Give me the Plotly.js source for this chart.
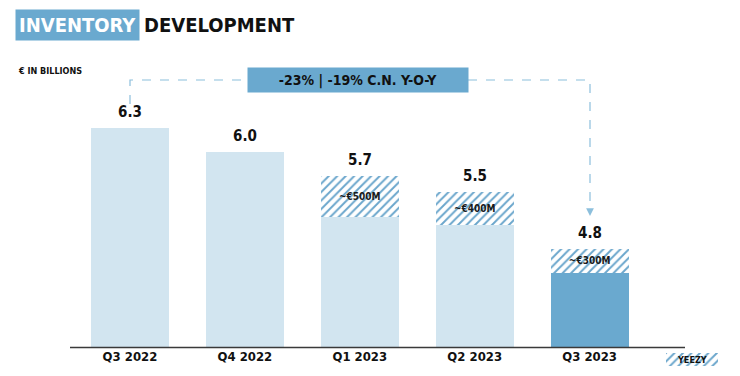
<!DOCTYPE html>
<html><head><meta charset="utf-8">
<script src="https://cdn.plot.ly/plotly-3.0.1.min.js"></script>
<style>html,body{margin:0;padding:0;background:#fff}#chart{width:740px;height:376px}</style>
</head><body><div id="chart"></div>
<script>
const quarters = ['Q3 2022', 'Q4 2022', 'Q1 2023', 'Q2 2023', 'Q3 2023'];
const totals = [6.3, 6.0, 5.7, 5.5, 4.8];
const yeezy = [0, 0, 0.5, 0.4, 0.3];
const yeezyLabels = ['', '', '~€500M', '~€400M', '~€300M'];
const totalLabels = ['6.3', '6.0', '5.7', '5.5', '4.8'];
const legendLabel = ['YEEZY'];

const W = 740, H = 376;
const px = x => x / W, py = y => 1 - y / H;
const F = '"DejaVu Sans Condensed", "Liberation Sans Narrow", sans-serif';
const light = '#d2e5f0', dark = '#6aa9cf', hatch = '#6aa6cc', arrowC = '#8cbfdc';

const base = totals.map((t, i) => +(t - yeezy[i]).toFixed(2));
const baseColors = quarters.map((q, i) => i === quarters.length - 1 ? dark : light);
const pat = {shape: '/', fgcolor: hatch, bgcolor: '#ffffff', size: 6, solidity: 0.32};

const traces = [
  {type: 'bar', x: quarters, y: base, marker: {color: baseColors}, width: 0.68,
   hoverinfo: 'skip', showlegend: false},
  {type: 'bar', x: quarters, y: yeezy, text: yeezyLabels, textposition: 'inside',
   insidetextanchor: 'middle', textangle: 0,
   textfont: {family: F, size: 10, color: '#1a1a1a', weight: 'bold'},
   marker: {color: '#ffffff', line: {width: 0}, pattern: pat},
   width: 0.68, hoverinfo: 'skip', showlegend: false},
  {type: 'bar', x: legendLabel, y: [1], xaxis: 'x2', yaxis: 'y2',
   marker: {color: '#ffffff', line: {width: 0}, pattern: pat},
   width: 1, hoverinfo: 'skip', showlegend: false}
];

const titleSize = 20;
const cv = document.createElement('canvas').getContext('2d');
cv.font = `bold ${titleSize}px "DejaVu Sans Condensed"`;
const w1 = cv.measureText('INVENTORY').width;

const annotations = quarters.map((q, i) => ({
  x: q, y: totals[i], xref: 'x', yref: 'y', text: totalLabels[i], showarrow: false,
  yanchor: 'bottom', yshift: 5, font: {family: F, size: 15, color: '#111', weight: 'bold'}
}));
annotations.push(
  {xref: 'paper', yref: 'paper', x: px(15), y: py(25), xanchor: 'left', yanchor: 'middle',
   text: 'INVENTORY', showarrow: false, bgcolor: dark, borderpad: 3,
   font: {family: F, size: titleSize, color: '#ffffff', weight: 'bold'}},
  {xref: 'paper', yref: 'paper', x: px(15 + w1 + 9), y: py(25), xanchor: 'left', yanchor: 'middle',
   text: 'DEVELOPMENT', showarrow: false, borderpad: 3,
   font: {family: F, size: titleSize, color: '#111111', weight: 'bold'}},
  {xref: 'paper', yref: 'paper', x: px(16), y: py(71), xanchor: 'left', yanchor: 'middle',
   text: '€ IN BILLIONS', showarrow: false,
   font: {family: F, size: 9, color: '#111111', weight: 'bold'}},
  {xref: 'paper', yref: 'paper', x: px(358), y: py(80), xanchor: 'center', yanchor: 'middle',
   text: '-23% | -19% C.N. Y-O-Y', showarrow: false, bgcolor: dark, width: 218, height: 22,
   font: {family: F, size: 14, color: '#111111', weight: 'bold'}},
  {xref: 'x2', yref: 'y2', x: 0, y: 0.5, text: legendLabel[0], showarrow: false,
   font: {family: F, size: 9, color: '#111111', weight: 'bold'}},
  {xref: 'paper', yref: 'paper', x: px(590), y: py(216), ax: 0, ay: -8, axref: 'pixel', ayref: 'pixel',
   text: '', showarrow: true, arrowhead: 2, arrowsize: 1.3, arrowwidth: 1.2, arrowcolor: arrowC}
);

const dash = {color: arrowC, width: 1.2, dash: 'dash'};
const shapes = [
  {type: 'path', xref: 'paper', yref: 'paper',
   path: `M ${px(130)} ${py(104)} L ${px(130)} ${py(80)} L ${px(248)} ${py(80)}`, line: dash},
  {type: 'path', xref: 'paper', yref: 'paper',
   path: `M ${px(468)} ${py(80)} L ${px(590)} ${py(80)} L ${px(590)} ${py(210)}`, line: dash},
  {type: 'line', xref: 'paper', yref: 'paper', x0: px(70), x1: px(685), y0: py(347.5), y1: py(347.5),
   line: {color: '#3a3a3a', width: 1.5}}
];

const layout = {
  width: W, height: H, margin: {l: 0, r: 0, t: 0, b: 0},
  paper_bgcolor: '#ffffff', plot_bgcolor: 'rgba(0,0,0,0)',
  barmode: 'stack',
  xaxis: {domain: [px(72.5), px(685)], range: [-0.5, 4.83], showgrid: false, zeroline: false,
          showline: false, ticks: '', tickfont: {family: F, size: 13, color: '#111', weight: 'bold'},
          anchor: 'y', fixedrange: true},
  yaxis: {domain: [py(347), py(25)], range: [3.58, 7.58], showgrid: false, zeroline: false,
          showticklabels: false, showline: false, anchor: 'x', fixedrange: true},
  xaxis2: {domain: [px(666), px(718)], range: [-0.5, 0.5], visible: false, anchor: 'y2', fixedrange: true},
  yaxis2: {domain: [py(366), py(353)], range: [0, 1], visible: false, anchor: 'x2', fixedrange: true},
  annotations: annotations,
  shapes: shapes,
  showlegend: false
};

Plotly.newPlot('chart', traces, layout, {displayModeBar: false, staticPlot: true});
</script></body></html>
